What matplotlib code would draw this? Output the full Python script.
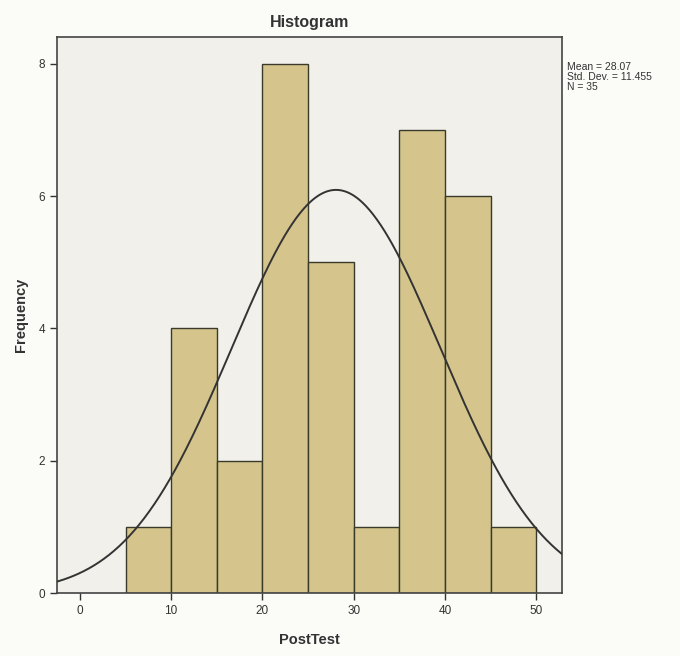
import numpy as np
import matplotlib.pyplot as plt

# ─── DATA ─────────────────────────────────────────────────────────────────────

bin_edges = [5, 10, 15, 20, 25, 30, 35, 40, 45, 50]
counts    = [1, 4, 2, 8, 5, 1, 7, 6, 1]
mean      = 28.07
std_dev   = 11.455
n         = 35
x_ticks   = [0, 10, 20, 30, 40, 50]
y_ticks   = [0, 2, 4, 6, 8]

# ─── PLOT ─────────────────────────────────────────────────────────────────────

plt.rcParams["font.family"] = ["Liberation Sans", "DejaVu Sans"]

fig = plt.figure(figsize=(6.8, 6.56), dpi=100)
fig.patch.set_facecolor("#fbfbf8")
ax = fig.add_axes([0.084, 0.096, 0.742, 0.848])
ax.set_facecolor("#f1f0ea")

widths = np.diff(bin_edges)
ax.bar(bin_edges[:-1], counts, width=widths, align="edge",
       color="#d5c58d", edgecolor="#3a3a2a", linewidth=1.0, zorder=2)

# normal curve scaled to counts
bw = widths[0]
xs = np.linspace(-2.5, 52.8, 400)
ys = n * bw / (std_dev * np.sqrt(2 * np.pi)) * np.exp(-0.5 * ((xs - mean) / std_dev) ** 2)
ax.plot(xs, ys, color="#333333", linewidth=1.4, zorder=3)

ax.set_xlim(-2.5, 52.8)
ax.set_ylim(0, 8.41)
ax.set_xticks(x_ticks)
ax.set_yticks(y_ticks)
ax.tick_params(labelsize=8.5, length=5, width=1, color="#333333", labelcolor="#333333")
for s in ax.spines.values():
    s.set_color("#444444")
    s.set_linewidth(1.2)

ax.set_title("Histogram", fontsize=11.5, fontweight="bold", color="#333333", pad=7)
ax.set_xlabel("PostTest", fontsize=10.5, fontweight="bold", color="#333333", labelpad=12)
ax.set_ylabel("Frequency", fontsize=10.5, fontweight="bold", color="#333333", labelpad=8)

fig.text(0.834, 0.905, f"Mean = {mean}\nStd. Dev. = {std_dev}\nN = {n}",
         fontsize=7.5, color="#333333", va="top", ha="left", linespacing=1.0)

plt.savefig("out.png", dpi=100, facecolor=fig.get_facecolor())
